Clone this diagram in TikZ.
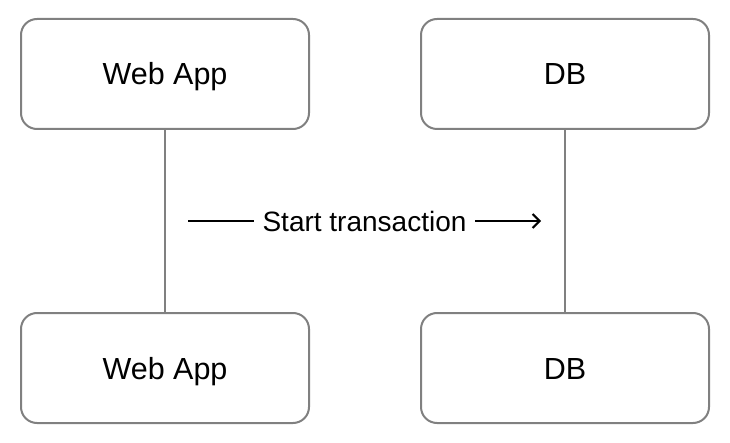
\documentclass[tikz,border=0pt]{standalone}
\usepackage{fontspec}
\setmainfont{Liberation Sans}
\usetikzlibrary{arrows.meta}
\definecolor{boxgray}{RGB}{128,128,128}
\newcommand{\seqbox}[3]{
	\node [seqnode] (#1) at (#2) {#3};}

\begin{document}
\begin{tikzpicture}[x=1pt,y=-1pt,
	seqnode/.style={draw=boxgray, line width=2pt, rounded corners=16pt, fill=white,
		minimum width=288pt, minimum height=110pt, text height=22pt, text depth=0pt,
		font=\fontsize{30.5}{36}\selectfont},
	lifeline/.style={draw=boxgray, line width=2pt},
	msg/.style={line width=2pt, -{Straight Barb[length=7pt,width=14pt]}}]
	\useasboundingbox (0,0) rectangle (730,443);
	% participants
	\seqbox{webTop}{165,74}{Web App}
	\seqbox{dbTop}{565,74}{DB}
	\seqbox{webBot}{165,368}{Web App}
	\seqbox{dbBot}{565,368}{DB}
	% lifelines
	\draw [lifeline] (webTop) -- (webBot);
	\draw [lifeline] (dbTop) -- (dbBot);
	% message
	\coordinate (msgStart) at (188,221);
	\coordinate (msgEnd) at (541,221);
	\draw [msg] (msgStart) -- node [fill=white, inner sep=9pt, font=\fontsize{28}{33}\selectfont] (msgLabel) {Start transaction} (msgEnd);
\end{tikzpicture}
\end{document}
